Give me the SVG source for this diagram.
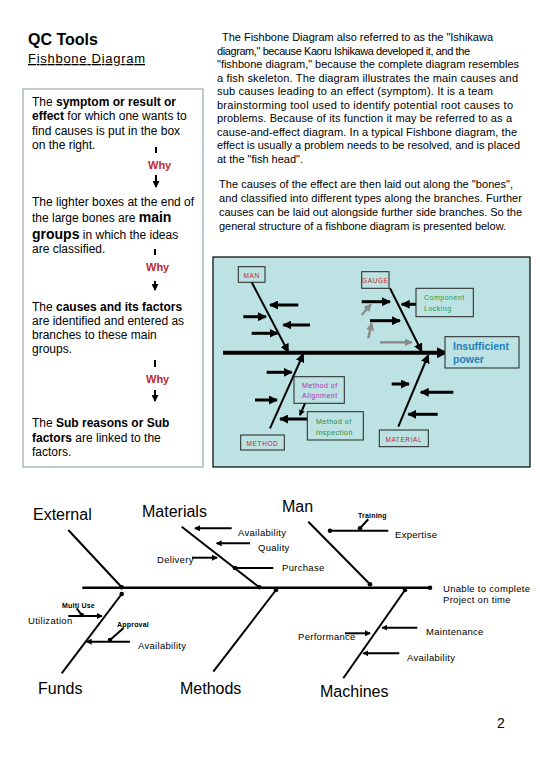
<svg xmlns="http://www.w3.org/2000/svg" width="540" height="780" viewBox="0 0 540 780">
<style>
text{font-family:"Liberation Sans",Arial,sans-serif;fill:#000}
.p{font-size:11px}
.lb{font-size:12px}
.b{font-weight:bold}
.why{font-size:11px;font-weight:bold;fill:#c0282d}
.red{font-size:6.5px;fill:#c0282d;letter-spacing:0.6px}
.sm{font-size:7px;letter-spacing:0.5px}
.big{font-size:16px}
.lab{font-size:9.5px;letter-spacing:0.3px}
.tiny{font-size:7px;font-weight:bold;letter-spacing:0.2px}
.box{fill:none;stroke:#222;stroke-width:1}
.bone{stroke:#000;stroke-width:2;fill:none}
.arr{stroke:#000;stroke-width:3;fill:none}
.gra{stroke:#8c8c8c;stroke-width:2.5;fill:none}
.thin{stroke:#000;stroke-width:2;fill:none}
</style>
<defs>
<marker id="ab" markerUnits="userSpaceOnUse" markerWidth="9" markerHeight="9" refX="8" refY="4.5" orient="auto"><path d="M0,0 L9,4.5 L0,9 z" fill="#000"/></marker>
<marker id="abig" markerUnits="userSpaceOnUse" markerWidth="11" markerHeight="11" refX="9" refY="5.5" orient="auto"><path d="M0,0 L11,5.5 L0,11 z" fill="#000"/></marker>
<marker id="ag" markerUnits="userSpaceOnUse" markerWidth="8" markerHeight="8" refX="7" refY="4" orient="auto"><path d="M0,0 L8,4 L0,8 z" fill="#8c8c8c"/></marker>
<marker id="as" markerUnits="userSpaceOnUse" markerWidth="6" markerHeight="6" refX="5" refY="3" orient="auto"><path d="M0,0 L6,3 L0,6 z" fill="#000"/></marker>
<marker id="dot" markerUnits="userSpaceOnUse" markerWidth="6" markerHeight="6" refX="3" refY="3"><circle cx="3" cy="3" r="2.3" fill="#000"/></marker>
<marker id="aw" markerUnits="userSpaceOnUse" markerWidth="7" markerHeight="7" refX="6" refY="3.5" orient="auto"><path d="M0,0 L7,3.5 L0,7 z" fill="#000"/></marker>
</defs>
<rect width="540" height="780" fill="#fff"/>

<g id="title">
<text x="28" y="45" class="b" style="font-size:16px">QC Tools</text>
<text x="28" y="63" style="font-size:13px;text-decoration:underline" textLength="117">Fishbone Diagram</text>
</g>

<g id="left-panel">
<rect x="23" y="89" width="180" height="378" fill="#fff" stroke="#7f97a8" stroke-width="1"/>
<text class="lb" x="32" y="106">The <tspan class="b">symptom or result or</tspan></text>
<text class="lb" x="32" y="120"><tspan class="b">effect</tspan> for which one wants to</text>
<text class="lb" x="32" y="135">find causes is put in the box</text>
<text class="lb" x="32" y="149">on the right.</text>
<text class="lb" x="32" y="206">The lighter boxes at the end of</text>
<text class="lb" x="32" y="222">the large bones are <tspan class="b" style="font-size:14px">main</tspan></text>
<text class="lb" x="32" y="239"><tspan class="b" style="font-size:14px">groups</tspan> in which the ideas</text>
<text class="lb" x="32" y="253">are classified.</text>
<text class="lb" x="32" y="311">The <tspan class="b">causes and its factors</tspan></text>
<text class="lb" x="32" y="325">are identified and entered as</text>
<text class="lb" x="32" y="339">branches to these main</text>
<text class="lb" x="32" y="353">groups.</text>
<text class="lb" x="32" y="427">The <tspan class="b">Sub reasons or Sub</tspan></text>
<text class="lb" x="32" y="442"><tspan class="b">factors</tspan> are linked to the</text>
<text class="lb" x="32" y="456">factors.</text>
</g>

<g id="why-1"><text class="why" x="148" y="169">Why</text></g>
<g id="why-2"><text class="why" x="146" y="271">Why</text></g>
<g id="why-3"><text class="why" x="146" y="383">Why</text></g>

<g id="description">
<text class="p" x="222" y="41" textLength="271">The Fishbone Diagram also referred to as the "Ishikawa</text>
<text class="p" x="217" y="54.5" textLength="253">diagram," because Kaoru Ishikawa developed it, and the</text>
<text class="p" x="217" y="68" textLength="302">"fishbone diagram," because the complete diagram resembles</text>
<text class="p" x="217" y="81.5" textLength="301">a fish skeleton. The diagram illustrates the main causes and</text>
<text class="p" x="217" y="95" textLength="276">sub causes leading to an effect (symptom). It is a team</text>
<text class="p" x="217" y="108.5" textLength="296">brainstorming tool used to identify potential root causes to</text>
<text class="p" x="217" y="122" textLength="295">problems. Because of its function it may be referred to as a</text>
<text class="p" x="217" y="135.5" textLength="300">cause-and-effect diagram. In a typical Fishbone diagram, the</text>
<text class="p" x="217" y="149" textLength="303">effect is usually a problem needs to be resolved, and is placed</text>
<text class="p" x="217" y="162.5" textLength="86">at the "fish head".</text>
<text class="p" x="219" y="188" textLength="294">The causes of the effect are then laid out along the "bones",</text>
<text class="p" x="219" y="202" textLength="303">and classified into different types along the branches. Further</text>
<text class="p" x="219" y="216" textLength="303">causes can be laid out alongside further side branches. So the</text>
<text class="p" x="219" y="229.5" textLength="287">general structure of a fishbone diagram is presented below.</text>
</g>

<rect id="blue-panel" x="213" y="257" width="317" height="210" fill="#bde2e3" stroke="#000" stroke-width="1.2"/>

<g id="connectors">
<!-- why arrows -->
<line x1="156" y1="147" x2="156" y2="153" class="thin"/>
<line x1="156" y1="175" x2="156" y2="187" class="thin" marker-end="url(#aw)"/>
<line x1="155" y1="249" x2="155" y2="255" class="thin"/>
<line x1="155" y1="281" x2="155" y2="290" class="thin" marker-end="url(#aw)"/>
<line x1="155" y1="360" x2="155" y2="367" class="thin"/>
<line x1="155" y1="390" x2="155" y2="401" class="thin" marker-end="url(#aw)"/>

<!-- top fishbone -->
<line x1="223" y1="352.7" x2="446" y2="352.7" stroke="#000" stroke-width="4" marker-end="url(#abig)"/>
<line x1="251.7" y1="282.3" x2="288.3" y2="352" class="bone" marker-end="url(#ab)"/>
<line x1="390" y1="288.3" x2="421.7" y2="351.5" class="bone" marker-end="url(#ab)"/>
<line x1="270" y1="428.3" x2="303.3" y2="354" class="bone" marker-end="url(#ab)"/>
<line x1="398.3" y1="426.7" x2="428.3" y2="355" class="bone" marker-end="url(#ab)"/>

<line x1="298.3" y1="305" x2="270" y2="305" class="arr" marker-end="url(#ab)"/>
<line x1="243.3" y1="316.7" x2="266" y2="316.7" class="arr" marker-end="url(#ab)"/>
<line x1="310" y1="325" x2="283.3" y2="325" class="arr" marker-end="url(#ab)"/>
<line x1="251.7" y1="333.3" x2="277.5" y2="333.3" class="arr" marker-end="url(#ab)"/>
<line x1="361.7" y1="301.7" x2="390" y2="301.7" class="arr" marker-end="url(#ab)"/>
<line x1="370" y1="320.7" x2="400" y2="320.7" class="arr" marker-end="url(#ab)"/>
<line x1="416" y1="304.3" x2="401.7" y2="304.3" class="arr" marker-end="url(#ab)"/>
<line x1="361.7" y1="315" x2="371" y2="304.3" class="gra" marker-end="url(#ag)"/>
<line x1="368.3" y1="338.3" x2="371.7" y2="323.3" class="gra" marker-end="url(#ag)"/>
<line x1="380" y1="342.3" x2="411.7" y2="342.3" class="gra" marker-end="url(#ag)"/>

<line x1="266.7" y1="372.3" x2="291.7" y2="372.3" class="arr" marker-end="url(#ab)"/>
<line x1="255" y1="400" x2="277" y2="400" class="arr" marker-end="url(#ab)"/>
<line x1="307" y1="419" x2="280" y2="419" class="arr" marker-end="url(#ab)"/>
<line x1="305" y1="403.3" x2="300" y2="415" stroke="#000" stroke-width="2" marker-end="url(#as)"/>
<line x1="391.7" y1="384" x2="409" y2="384" class="arr" marker-end="url(#ab)"/>
<line x1="453.3" y1="392.3" x2="420.7" y2="392.3" class="arr" marker-end="url(#ab)"/>
<line x1="437.7" y1="414.3" x2="408.3" y2="414.3" class="arr" marker-end="url(#ab)"/>

<!-- bottom fishbone -->
<line x1="82.3" y1="587.7" x2="430" y2="587.7" stroke="#000" stroke-width="2.5" marker-end="url(#dot)"/>
<line x1="68.3" y1="530" x2="121.7" y2="587.3" class="thin" marker-end="url(#dot)"/>
<line x1="181.7" y1="526.7" x2="259.3" y2="587.3" class="thin" marker-end="url(#dot)"/>
<line x1="308.3" y1="521.7" x2="370" y2="584.3" class="thin" marker-end="url(#dot)"/>
<line x1="61.7" y1="673.3" x2="121.7" y2="594" class="thin" marker-end="url(#dot)"/>
<line x1="213.3" y1="671.7" x2="276" y2="590" class="thin" marker-end="url(#dot)"/>
<line x1="343.3" y1="678.3" x2="405" y2="590" class="thin" marker-end="url(#dot)"/>

<line x1="231.7" y1="528.3" x2="195" y2="528.3" class="thin" marker-end="url(#as)"/>
<line x1="250" y1="543.3" x2="216.7" y2="543.3" class="thin" marker-end="url(#as)"/>
<line x1="192" y1="557.7" x2="217" y2="557.7" class="thin" marker-end="url(#as)"/>
<line x1="273.3" y1="568" x2="235" y2="568" class="thin" marker-end="url(#dot)"/>
<line x1="368.3" y1="519.3" x2="360" y2="528.3" class="thin" marker-end="url(#dot)"/>
<line x1="388.3" y1="530.7" x2="330" y2="530.7" class="thin" marker-end="url(#dot)"/>
<line x1="76.7" y1="608.3" x2="81.7" y2="615" class="thin" marker-end="url(#dot)"/>
<line x1="68.3" y1="616" x2="102" y2="616" class="thin" marker-end="url(#as)"/>
<line x1="123.3" y1="628.3" x2="110" y2="640" class="thin" marker-end="url(#dot)"/>
<line x1="130" y1="641.7" x2="86.7" y2="641.7" class="thin" marker-end="url(#as)"/>
<line x1="345" y1="633.3" x2="370" y2="633.3" class="thin" marker-end="url(#as)"/>
<line x1="417.3" y1="627.7" x2="382.3" y2="627.7" class="thin" marker-end="url(#as)"/>
<line x1="399.3" y1="653.3" x2="363.3" y2="653.3" class="thin" marker-end="url(#as)"/>
</g>

<g id="man-box"><rect class="box" x="238.3" y="266.7" width="26.7" height="15.6"/><text class="red" x="251.7" y="278" text-anchor="middle">MAN</text></g>
<g id="gauge-box"><rect class="box" x="361.7" y="271.7" width="27.3" height="16.6"/><text class="red" x="375.3" y="283" text-anchor="middle">GAUGE</text></g>
<g id="component-box"><rect class="box" x="416" y="288.3" width="57.3" height="28.4"/><text class="sm" x="424" y="300" fill="#2e9a3a" style="fill:#2e9a3a">Component</text><text class="sm" x="424" y="311" style="fill:#2e9a3a">Locking</text></g>
<g id="effect-box"><rect class="box" x="445" y="336.7" width="74" height="31.3" fill="#bde2e3" style="fill:#bde2e3"/><text x="453" y="350" class="b" style="font-size:10.5px;fill:#1f7fc0">Insufficient</text><text x="453" y="363" class="b" style="font-size:10.5px;fill:#1f7fc0">power</text></g>
<g id="alignment-box"><rect class="box" x="294" y="376.7" width="50.3" height="26.6"/><text class="sm" x="302" y="387.5" style="fill:#b02cb0">Method of</text><text class="sm" x="302" y="398" style="fill:#b02cb0">Alignment</text></g>
<g id="inspection-box"><rect class="box" x="307.3" y="411.7" width="56" height="28.3"/><text class="sm" x="316" y="424" style="fill:#2e8b3a">Method of</text><text class="sm" x="316" y="434.5" style="fill:#2e8b3a">Inspection</text></g>
<g id="method-box"><rect class="box" x="240.7" y="435" width="43.6" height="15"/><text class="red" x="262.5" y="446" text-anchor="middle">METHOD</text></g>
<g id="material-box"><rect class="box" x="379.3" y="430" width="49" height="16.7"/><text class="red" x="403.8" y="441.5" text-anchor="middle">MATERIAL</text></g>

<g id="external"><text class="big" x="33" y="520">External</text></g>
<g id="materials"><text class="big" x="142" y="517">Materials</text></g>
<g id="man"><text class="big" x="282" y="512">Man</text></g>
<g id="funds"><text class="big" x="38" y="694">Funds</text></g>
<g id="methods"><text class="big" x="180" y="694">Methods</text></g>
<g id="machines"><text class="big" x="320" y="697">Machines</text></g>
<g id="effect"><text class="lab" x="443" y="591.5">Unable to complete</text><text class="lab" x="443" y="603">Project on time</text></g>

<g id="labels">
<text class="lab" x="238" y="536">Availability</text>
<text class="lab" x="258" y="551">Quality</text>
<text class="lab" x="157" y="563">Delivery</text>
<text class="lab" x="282" y="571">Purchase</text>
<text class="tiny" x="358" y="518">Training</text>
<text class="lab" x="395" y="538">Expertise</text>
<text class="tiny" x="62" y="608">Multi Use</text>
<text class="lab" x="28" y="623.5">Utilization</text>
<text class="tiny" x="117" y="627">Approval</text>
<text class="lab" x="138" y="648.5">Availability</text>
<text class="lab" x="298" y="640">Performance</text>
<text class="lab" x="426" y="634.5">Maintenance</text>
<text class="lab" x="407" y="661">Availability</text>
</g>

<g id="page-number"><text x="497" y="728" style="font-size:14px">2</text></g>
</svg>
